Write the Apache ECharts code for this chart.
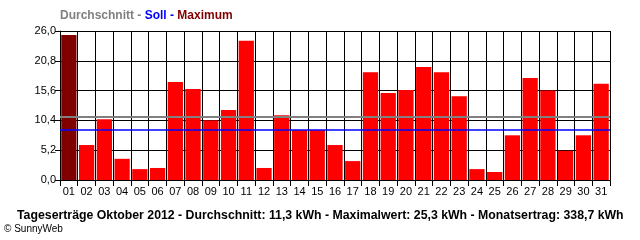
<!DOCTYPE html>
<html>
<head>
<meta charset="utf-8">
<script src="https://cdn.jsdelivr.net/npm/echarts@6/dist/echarts.min.js"></script>
<style>html,body{margin:0;padding:0;background:#fff}#c{width:640px;height:240px}</style>
</head>
<body>
<div id="c"></div>
<script>
var days = ['01','02','03','04','05','06','07','08','09','10','11','12','13','14','15','16','17','18','19','20','21','22','23','24','25','26','27','28','29','30','31'];
var yields = [25.3,6.1,10.6,3.7,1.9,2.1,17.1,15.9,10.4,12.2,24.3,2.1,11.3,8.7,8.7,6.1,3.3,18.8,15.2,15.7,19.7,18.8,14.6,1.9,1.4,7.8,17.8,15.6,5.1,7.8,16.8];
var sollValue = 8.7;
var avgLineValue = 11.0;
var yTicks = [0, 5.2, 10.4, 15.6, 20.8, 26.0];
var headline = 'Tageserträge Oktober 2012 - Durchschnitt: 11,3 kWh - Maximalwert: 25,3 kWh - Monatsertrag: 338,7 kWh';

var maxVal = Math.max.apply(null, yields);
var chart = echarts.init(document.getElementById('c'), null, {renderer: 'canvas'});
var font = 'Liberation Sans, Arial, sans-serif';
chart.setOption({
  animation: false,
  backgroundColor: '#ffffff',
  textStyle: {fontFamily: font},
  title: [
    {
      left: 60, top: 10, padding: 0,
      text: '{g|Durchschnitt - }{b|Soll - }{r|Maximum}',
      textStyle: {
        rich: {
          g: {color: '#808080', fontSize: 12, fontWeight: 'bold', fontFamily: font},
          b: {color: '#0000ff', fontSize: 12, fontWeight: 'bold', fontFamily: font},
          r: {color: '#800000', fontSize: 12, fontWeight: 'bold', fontFamily: font}
        }
      }
    },
    {
      left: 17, top: 210, padding: 0,
      text: headline,
      textStyle: {color: '#000', fontSize: 12.3, fontWeight: 'bold', fontFamily: font}
    },
    {
      left: 4, top: 224, padding: 0,
      text: '© SunnyWeb',
      textStyle: {color: '#000', fontSize: 10, fontWeight: 'normal', fontFamily: font}
    }
  ],
  grid: {left: 60, right: 30, top: 31, bottom: 60, containLabel: false},
  xAxis: {
    type: 'category',
    data: days,
    boundaryGap: true,
    axisLine: {show: true, lineStyle: {color: '#000', width: 1}},
    axisTick: {show: true, alignWithLabel: false, length: 6, lineStyle: {color: '#000'}},
    axisLabel: {color: '#000', fontSize: 11, margin: 6, interval: 0, fontFamily: font},
    splitLine: {show: true, lineStyle: {color: '#000', width: 1}}
  },
  yAxis: {
    type: 'value',
    min: 0, max: 26, interval: 5.2,
    axisLine: {show: true, lineStyle: {color: '#000', width: 1}},
    axisTick: {show: true, length: 5, lineStyle: {color: '#000'}},
    axisLabel: {color: '#000', fontSize: 11, margin: 4, fontFamily: font,
      formatter: function (v) { return v.toFixed(1).replace('.', ','); }},
    splitLine: {show: true, lineStyle: {color: '#000', width: 1}}
  },
  series: [{
    type: 'bar',
    data: yields,
    barCategoryGap: '14%',
    itemStyle: {
      color: function (p) { return p.value === maxVal ? '#800000' : '#ff0000'; }
    },
    markLine: {
      silent: true,
      symbol: ['none', 'none'],
      label: {show: false},
      animation: false,
      data: [
        {yAxis: avgLineValue, lineStyle: {color: '#808080', width: 2, type: 'solid'}},
        {yAxis: sollValue, lineStyle: {color: '#0000ff', width: 1.5, type: 'solid'}}
      ]
    }
  }]
});
</script>
</body>
</html>
